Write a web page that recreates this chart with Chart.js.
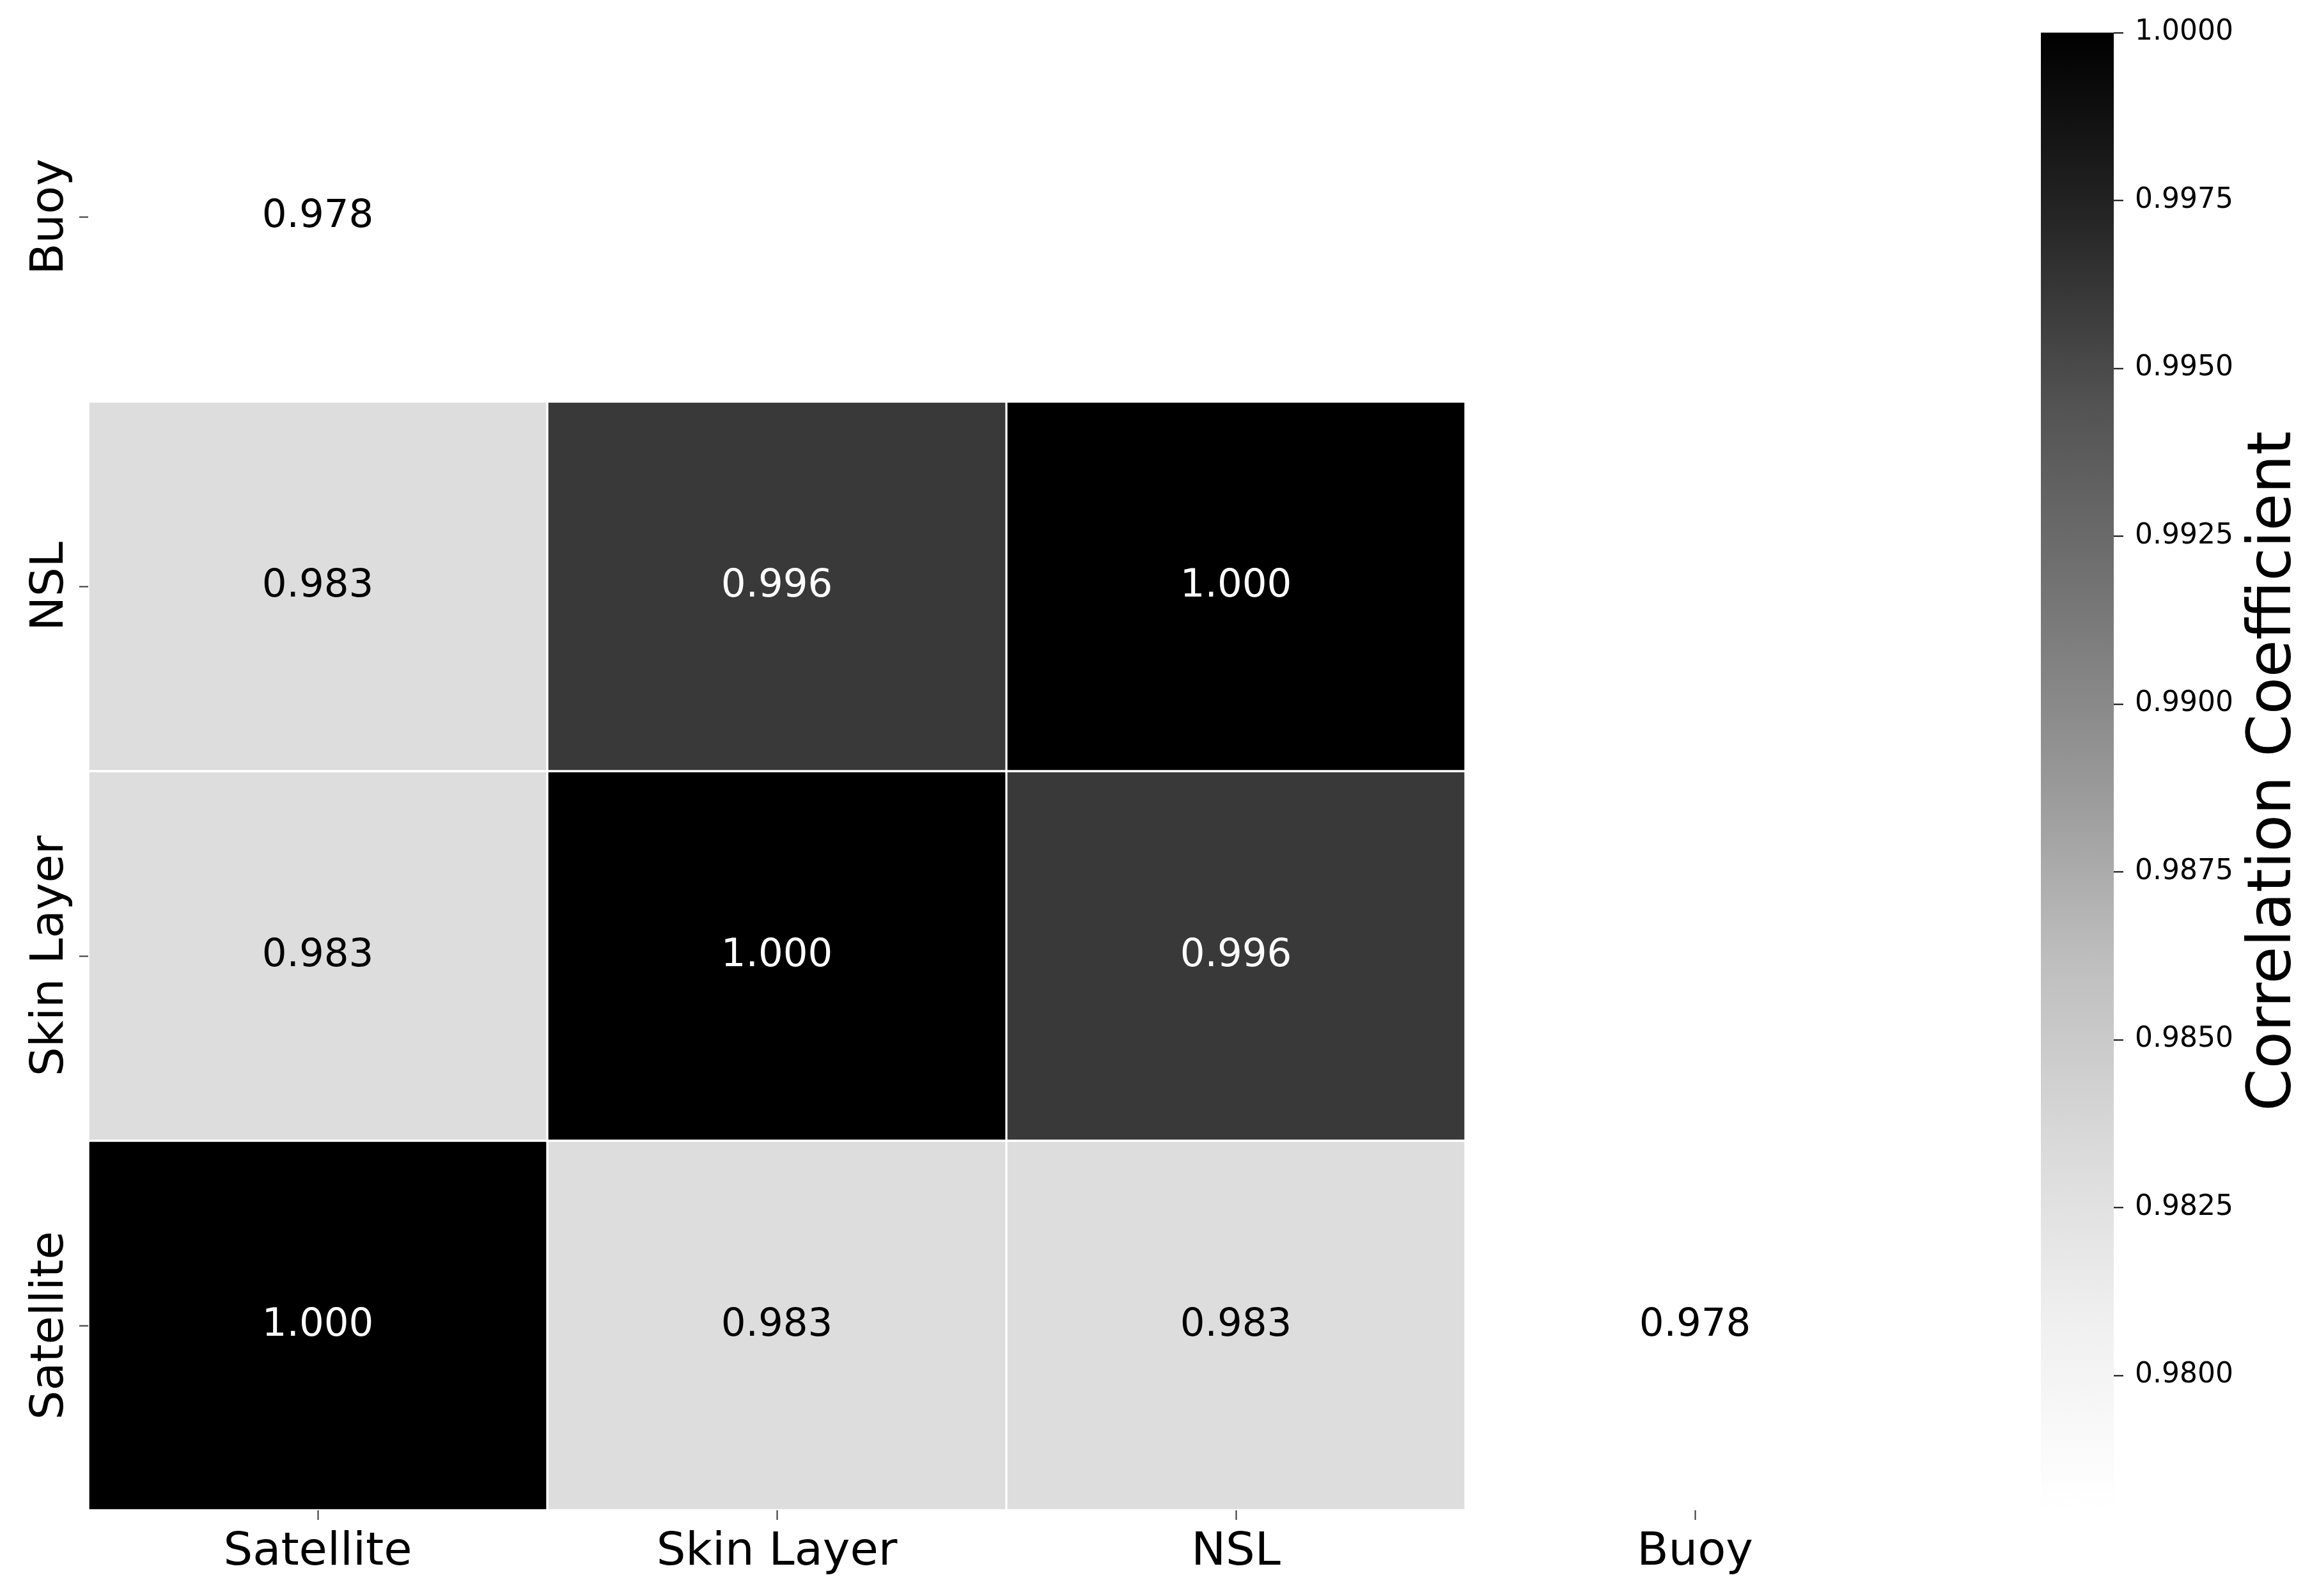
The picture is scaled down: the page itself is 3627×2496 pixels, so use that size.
<!DOCTYPE html>
<html><head><meta charset="utf-8">
<script src="https://cdn.jsdelivr.net/npm/chart.js@4/dist/chart.umd.min.js"></script>
<style>
html,body{margin:0;padding:0;background:#fff;overflow:hidden;width:3627px;height:2496px}
#main{position:absolute;left:0;top:0}
#cb{position:absolute;left:3100px;top:0}
</style></head><body>
<canvas id="main" width="3627" height="2496"></canvas>
<canvas id="cb" width="527" height="2496"></canvas>
<script>
// ---- data ----
const colLabels = ['Satellite', 'Skin Layer', 'NSL', 'Buoy'];
const rowLabels = ['Buoy', 'NSL', 'Skin Layer', 'Satellite']; // top to bottom
const rowBuoy      = [0.978, null,  null,  null];
const rowNSL       = [0.983, 0.996, 1.000, null];
const rowSkinLayer = [0.983, 1.000, 0.996, null];
const rowSatellite = [1.000, 0.983, 0.983, 0.978];
const colorbarTicks = [0.9800, 0.9825, 0.9850, 0.9875, 0.9900, 0.9925, 0.9950, 0.9975, 1.0000];
const colorMin = 0.978, colorMax = 1.0;
const colorbarLabel = 'Correlation Coefficient';

// ---- styling ----
const FONT = "'DejaVu Sans', sans-serif";
const greys = [[255,255,255],[240,240,240],[217,217,217],[189,189,189],[150,150,150],[115,115,115],[82,82,82],[37,37,37],[0,0,0]];
function greyAt(t){
  t = Math.max(0, Math.min(1, t));
  const p = t * 8; const i = Math.min(7, Math.floor(p)); const f = p - i;
  const a = greys[i], b = greys[i+1];
  const c = a.map((v,k)=>Math.round(v + (b[k]-v)*f));
  return 'rgb(' + c.join(',') + ')';
}
const norm = v => (v - colorMin) / (colorMax - colorMin);

const matrix = [rowBuoy, rowNSL, rowSkinLayer, rowSatellite];
const datasets = matrix.map((row, r) => ({
  data: row.map((v, c) => v === null ? null : {x: colLabels[c], y: [r - 0.5, r + 0.5], v: v}).filter(d => d !== null),
  backgroundColor: ctx => ctx.raw ? greyAt(norm(ctx.raw.v)) : '#fff',
  borderColor: '#ffffff',
  borderWidth: 2,
  borderSkipped: false,
  grouped: false,
  categoryPercentage: 1,
  barPercentage: 1
}));

const annotatePlugin = {
  id: 'annot',
  afterDatasetsDraw(chart){
    const {ctx} = chart; const xs = chart.scales.x, ys = chart.scales.y;
    ctx.save();
    ctx.font = '61px ' + FONT; ctx.textAlign = 'center'; ctx.textBaseline = 'middle';
    matrix.forEach((row, r) => row.forEach((v, c) => {
      if (v === null) return;
      ctx.fillStyle = norm(v) > 0.5 ? '#ffffff' : '#000000';
      ctx.fillText(v.toFixed(3), xs.getPixelForValue(c), ys.getPixelForValue(r));
    }));
    ctx.font = '72px ' + FONT; ctx.fillStyle = '#000'; ctx.textAlign = 'center'; ctx.textBaseline = 'alphabetic';
    rowLabels.forEach((lab, r) => {
      ctx.save(); ctx.translate(98, ys.getPixelForValue(r)); ctx.rotate(-Math.PI/2);
      ctx.fillText(lab, 0, 0); ctx.restore();
    });
    ctx.restore();
  }
};

new Chart(document.getElementById('main'), {
  type: 'bar',
  data: {labels: colLabels, datasets: datasets},
  options: {
    responsive: false, animation: false, devicePixelRatio: 1,
    layout: {padding: {left: 0, top: 50, right: 617, bottom: 0}},
    plugins: {legend: {display: false}, tooltip: {enabled: false}},
    scales: {
      x: {
        type: 'category', offset: true,
        afterFit(s){ s.height = 134; },
        ticks: {font: {family: FONT, size: 72}, color: '#000', padding: 8, maxRotation: 0},
        grid: {offset: false, drawOnChartArea: false, drawTicks: true, tickLength: 15, tickColor: '#333', tickWidth: 2},
        border: {display: false}
      },
      y: {
        type: 'linear', reverse: true, min: -0.5, max: 3.5,
        afterFit(s){ s.width = 138; },
        afterBuildTicks(s){ s.ticks = rowLabels.map((_, i) => ({value: i})); },
        ticks: {display: false},
        grid: {drawOnChartArea: false, drawTicks: true, tickLength: 14, tickColor: '#333', tickWidth: 2},
        border: {display: false}
      }
    }
  },
  plugins: [annotatePlugin]
});

const cbTitlePlugin = {
  id: 'cbTitle',
  afterDraw(chart){
    const ctx = chart.ctx; const ys = chart.scales.y;
    ctx.save();
    ctx.font = '95px ' + FONT; ctx.fillStyle = '#000'; ctx.textAlign = 'center'; ctx.textBaseline = 'alphabetic';
    ctx.translate(482, (ys.top + ys.bottom) / 2);
    ctx.rotate(-Math.PI/2);
    ctx.fillText(colorbarLabel, 0, 0);
    ctx.restore();
  }
};

new Chart(document.getElementById('cb'), {
  type: 'bar',
  data: {labels: ['colorbar'], datasets: [{
    data: [[colorMin, colorMax]],
    backgroundColor: ctx => {
      const ch = ctx.chart; if (!ch.chartArea) return '#888';
      const ys = ch.scales.y;
      const g = ch.ctx.createLinearGradient(0, ys.getPixelForValue(colorMin), 0, ys.getPixelForValue(colorMax));
      greys.forEach((c, i) => g.addColorStop(i / 8, 'rgb(' + c.join(',') + ')'));
      return g;
    },
    borderWidth: 0, categoryPercentage: 1, barPercentage: 1
  }]},
  options: {
    responsive: false, animation: false, devicePixelRatio: 1,
    layout: {padding: {left: 92, top: 51, bottom: 135, right: 0}},
    plugins: {legend: {display: false}, tooltip: {enabled: false}},
    scales: {
      x: {display: false},
      y: {
        position: 'right', min: colorMin, max: colorMax,
        afterFit(s){ s.width = 321; },
        afterBuildTicks(s){ s.ticks = colorbarTicks.map(v => ({value: v})); },
        ticks: {callback: v => Number(v).toFixed(4), font: {family: FONT, size: 44}, color: '#000', padding: 18, autoSkip: false},
        grid: {drawOnChartArea: false, drawTicks: true, tickLength: 15, tickColor: '#000', tickWidth: 2},
        border: {display: false}
      }
    }
  },
  plugins: [cbTitlePlugin]
});
</script>
</body></html>
